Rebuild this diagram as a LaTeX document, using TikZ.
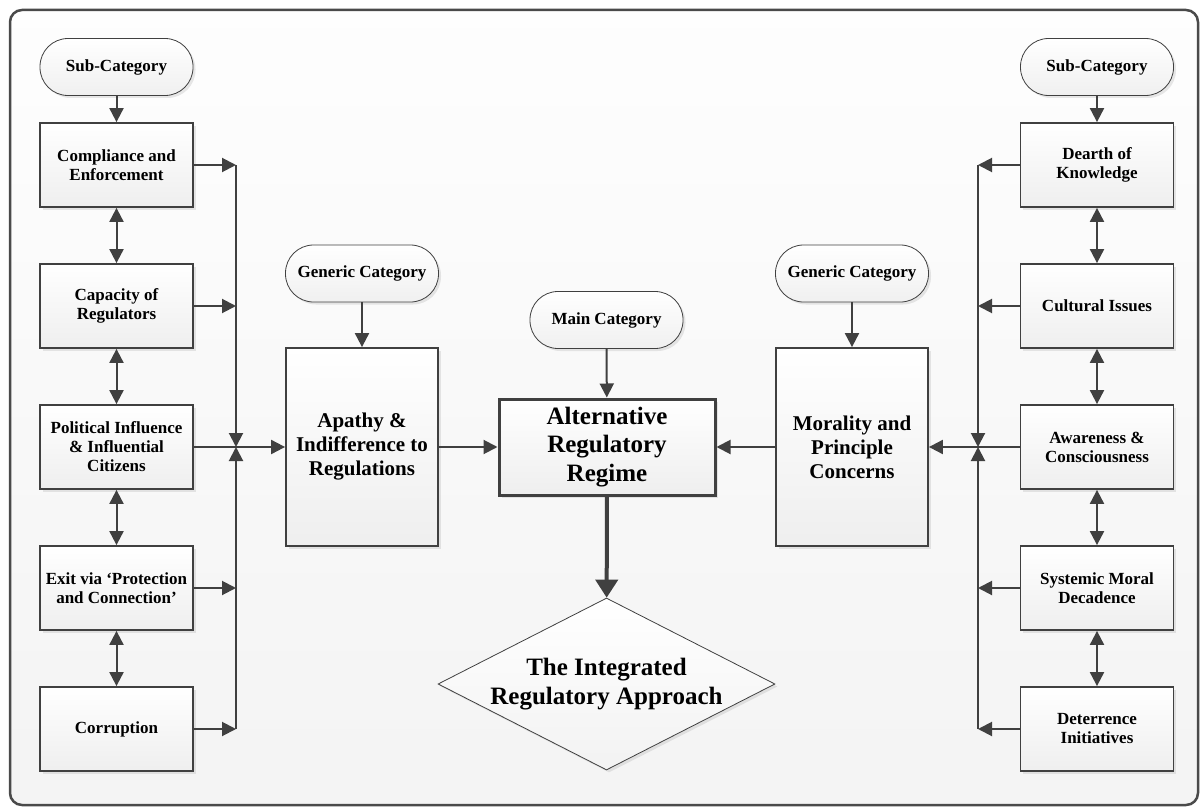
\documentclass[tikz,border=0pt]{standalone}
\usepackage{fontspec}
\setmainfont{Liberation Serif}[BoldFont={Liberation Serif Bold}]
\usetikzlibrary{arrows.meta,shapes.geometric,shadows}
\definecolor{ln}{HTML}{404040}
\definecolor{frm}{HTML}{4A4A4A}
\begin{document}
\begin{tikzpicture}[x=1pt,y=-1pt,
  shad/.style={drop shadow={shadow xshift=2.5pt,shadow yshift=-2.5pt,opacity=0.18}},
  box/.style={shad,draw=ln,line width=1.8pt,top color=white,bottom color=gray!13,
    minimum width=153pt,minimum height=84pt,align=center,inner sep=2pt,
    font=\fontsize{17}{19}\selectfont\bfseries},
  term/.style={shad,draw=ln,line width=0.8pt,rounded corners=28pt,top color=white,bottom color=gray!12,
    minimum width=153pt,minimum height=57pt,inner sep=2pt,
    font=\fontsize{17}{19}\selectfont\bfseries},
  big/.style={box,minimum width=152pt,minimum height=198pt,font=\fontsize{21}{24}\selectfont\bfseries},
  conn/.style={draw=ln,line width=2pt,-{Triangle[length=14pt,width=14pt]}},
  bi/.style={draw=ln,line width=2pt,{Triangle[length=14pt,width=14pt]}-{Triangle[length=14pt,width=14pt]}},
]
\useasboundingbox (0,0) rectangle (1200,808);
\draw[draw=frm,line width=2.5pt,rounded corners=12pt,top color=gray!1,bottom color=gray!9] (10,10) rectangle (1198,805);

% left column
\node[term] (sl) at (116.5,67) {Sub-Category};
\node[box] (l1) at (116.5,165) {Compliance and\\Enforcement};
\node[box] (l2) at (116.5,306) {Capacity of\\Regulators};
\node[box] (l3) at (116.5,447) {Political Influence\\\& Influential\\Citizens};
\node[box] (l4) at (116.5,588) {Exit via ‘Protection\\and Connection’};
\node[box] (l5) at (116.5,729) {Corruption};

% right column
\node[term] (sr) at (1097,67) {Sub-Category};
\node[box] (r1) at (1097,165) {Dearth of\\Knowledge};
\node[box] (r2) at (1097,306) {Cultural Issues};
\node[box] (r3) at (1097,447) {Awareness \&\\Consciousness};
\node[box] (r4) at (1097,588) {Systemic Moral\\Decadence};
\node[box] (r5) at (1097,729) {Deterrence\\Initiatives};

% generic categories
\node[term] (gl) at (362,273.5) {Generic Category};
\node[big] (ap) at (362,447) {Apathy \&\\Indifference to\\Regulations};
\node[term] (gr) at (852,273.5) {Generic Category};
\node[big] (mo) at (852,447) {Morality and\\Principle\\Concerns};

% main
\node[term] (mc) at (606.5,320) {Main Category};
\node[box,line width=3pt,minimum width=216pt,minimum height=96pt,
  font=\fontsize{25}{28.5}\selectfont\bfseries] (arr) at (607,447) {Alternative\\Regulatory\\Regime};
\node[shad,diamond,draw=ln,line width=0.8pt,top color=white,bottom color=gray!10,
  minimum width=337pt,minimum height=172pt,inner sep=0pt] (dia) at (606.5,684) {};
\node[font=\fontsize{25}{29}\selectfont\bfseries,align=center] (diat) at (dia.center) {The Integrated\\Regulatory Approach};

% bus junctions
\coordinate (jl) at (236,447);
\coordinate (jr) at (978,447);

% left connectors
\draw[conn] (sl) -- (l1);
\draw[bi] (l1) -- (l2);
\draw[bi] (l2) -- (l3);
\draw[bi] (l3) -- (l4);
\draw[bi] (l4) -- (l5);
\draw[conn] (l1.east) -- (l1.east -| jl);
\draw[conn] (l2.east) -- (l2.east -| jl);
\draw[conn] (l4.east) -- (l4.east -| jl);
\draw[conn] (l5.east) -- (l5.east -| jl);
\draw[conn] (l1.east -| jl) -- (jl);
\draw[conn] (l5.east -| jl) -- (jl);
\draw[conn] (l3) -- (ap);

% right connectors
\draw[conn] (sr) -- (r1);
\draw[bi] (r1) -- (r2);
\draw[bi] (r2) -- (r3);
\draw[bi] (r3) -- (r4);
\draw[bi] (r4) -- (r5);
\draw[conn] (r1.west) -- (r1.west -| jr);
\draw[conn] (r2.west) -- (r2.west -| jr);
\draw[conn] (r4.west) -- (r4.west -| jr);
\draw[conn] (r5.west) -- (r5.west -| jr);
\draw[conn] (r1.west -| jr) -- (jr);
\draw[conn] (r5.west -| jr) -- (jr);
\draw[conn] (r3) -- (mo);

% center connectors
\draw[conn] (gl) -- (ap);
\draw[conn] (gr) -- (mo);
\draw[conn] (mc) -- (arr);
\draw[conn] (ap) -- (arr);
\draw[conn] (mo) -- (arr);
\draw[draw=ln,line width=4pt,-{Triangle[length=18pt,width=22pt]}] (arr) -- (dia);
\end{tikzpicture}
\end{document}
